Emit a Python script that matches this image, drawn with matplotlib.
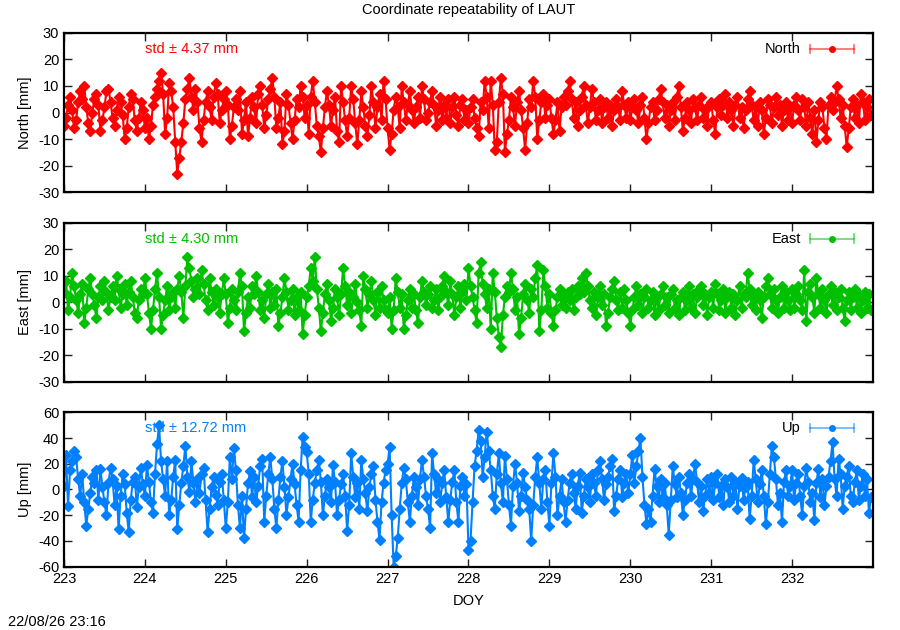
import numpy as np
import matplotlib
matplotlib.use('Agg')
import matplotlib.pyplot as plt

plt.rcParams['font.family'] = ['Liberation Sans', 'DejaVu Sans']
plt.rcParams['axes.unicode_minus'] = False

# 观测历元 (DOY), 每 0.025 天一个点 (每天 40 个)
doy = 223.0 + np.arange(400) * 0.025

north = [
    -5, -2, 3, 6, 1, -6, -3, 4, 8, 5, 10, 2, -4, -7, 0, 5, 7, 3, -7, -3,
    2, 8, 9, 4, -2, -5, 1, 6, 4, -1, -10, -6, 2, 7, 5, -3, -7, -2, 4, 1,
    -6, -2, -10, -5, 3, 6, 9, 12, 15, 7, -8, -2, 11, 8, 2, -11, -23, -17, -11, -4,
    5, 9, 13, 6, 1, 9, 4, -6, -11, -3, 4, 8, 2, -3, 6, 11, 7, -4, 1, 5,
    8, 3, -10, -5, 2, 5, 1, 8, -8, -3, 4, -9, -2, 6, 2, -4, 7, 10, 3, -6,
    -1, 5, 9, 13, 6, -6, -2, 4, -12, -7, 7, 3, -4, -10, -3, 5, 2, 10, 6, -2,
    3, -8, 6, 12, 4, -5, -9, -15, -6, 2, 8, 3, -5, 1, 6, -7, -11, 10, 4, -3,
    -9, -2, 10, 5, -4, -12, -3, 8, 2, -5, -9, -1, 10, 4, -6, 2, 7, -3, 12, 5,
    -6, -14, -8, 1, 6, 2, -6, 10, 4, -3, 3, 8, 1, -4, 2, 6, -2, 10, 5, -3,
    0, 4, 8, 3, -5, 1, 6, -3, 3, -2, 5, -4, 2, 6, -1, -5, 3, 5, -3, 1,
    -4, 2, 5, -2, -6, -9, 4, 1, 12, 6, -6, 12, 3, -14, -11, 4, 13, 7, -15, -8,
    -3, 6, 2, -5, 4, 8, 1, -6, -14, -4, 5, 2, 12, 6, -10, -3, 4, 7, -2, 3,
    5, -2, -8, -3, 4, -7, 2, 6, 3, 8, 12, 5, -2, 4, -5, 1, 6, 10, 3, -4,
    2, 9, 4, -3, 1, 5, -4, 2, 4, -2, 3, -5, 1, 5, 2, -3, 8, 3, -2, 4,
    -3, 2, 5, 1, -4, 3, 6, -2, -10, -4, 2, 4, -3, 1, 5, 9, 4, -2, 3, -5,
    1, 4, -3, 6, 10, 2, -7, -2, 4, 1, -4, 5, 2, -3, 3, 6, -2, 1, -5, 3,
    4, -3, -8, 2, 5, -1, 3, 7, -2, 4, 1, -5, 3, 6, -2, 2, -6, 1, 5, 8,
    3, -3, 2, -5, 4, 1, -8, -2, 5, 3, -4, 2, 6, -1, 3, -5, 1, 4, -3, 2,
    -4, 3, 6, 1, -3, 5, 2, -5, 4, -2, -8, 1, -11, -3, 4, 2, -6, -10, 3, 6,
    1, 4, 10, 5, -2, 3, -5, -13, -6, 2, 5, -2, 3, -4, 7, 4, -3, 2, 5, -1,
]

east = [
    4, 8, -3, 2, 11, 6, 1, -4, 3, 7, -8, -2, 5, 9, 3, -1, -6, 2, 6, 1,
    8, 4, -3, 2, 6, 1, 10, 5, -2, 3, 7, -1, 4, 8, 2, -4, -6, 1, 5, 3,
    9, 3, -4, -10, -3, 5, 11, 2, -10, -5, 1, 6, -3, 2, 4, -2, 5, 10, 4, -6,
    6, 17, 13, 8, 2, 5, 9, 3, 12, 7, 1, -3, 9, 4, -1, 5, 2, -4, 3, 9,
    3, -8, -2, 5, 1, -3, 4, 11, 6, -11, -4, 2, -2, 6, 3, 10, 4, -3, 1, -6,
    3, 7, -2, 4, -1, 5, -9, -4, 2, 9, 4, -3, 1, 5, -5, 2, -3, 4, -12, -5,
    2, 6, 13, 8, 17, 5, -2, -11, -4, 3, 7, 1, -7, -2, 5, 2, -5, 3, 13, 6,
    -1, 4, -4, 2, 7, 0, -3, -9, 10, 5, -2, 3, 8, 1, -5, 4, -2, 6, 1, -3,
    -4, 2, -10, -3, 9, 4, -2, 3, -10, -5, 1, 5, -2, 3, -3, -8, 2, 8, 4, -1,
    3, 6, -2, 1, 5, -3, 2, 6, 10, 4, -1, 8, 3, -5, 2, 6, -2, 4, 7, 1,
    13, 6, 2, -3, -8, 11, 15, 7, 3, -2, 5, -10, 11, 4, -6, -13, -17, -5, 2, 6,
    4, 11, 5, -3, 2, -12, -6, 3, 7, 1, -4, 5, 2, 9, 14, -11, -3, 12, 6, -2,
    3, -4, -9, -3, 2, 5, -1, 3, -2, 4, 1, 5, -3, 2, 6, 3, 9, 4, 11, 6,
    1, -2, 4, -5, 2, 6, -1, 3, -9, -4, 2, 5, 8, 1, -3, 4, -2, 5, 1, -4,
    -9, -3, 2, 6, -1, 3, -4, 2, 5, -2, 1, 4, -5, 2, -3, 3, 6, -1, 2, -4,
    3, 5, -2, 1, -5, 2, 4, -3, 1, 6, -2, 3, -4, 2, 5, 6, -1, 3, -5, 2,
    4, -2, 7, 3, -3, 1, 5, -4, 2, 4, -2, 3, -5, 1, 6, -2, 3, 2, 11, 5,
    -1, 3, -3, 4, 1, -6, 2, 6, 9, 3, -2, 5, 1, -4, 2, 6, -2, 4, 1, -3,
    5, -2, 3, 6, 1, -3, 12, -7, 4, 7, 2, -4, 9, 3, -2, 5, 1, -4, 3, 6,
    -1, 4, -3, 2, 5, -2, -7, 1, 4, -3, 2, 5, -2, 3, -4, 1, 4, -2, 3, -3,
]

up = [
    3, 27, -13, 15, 22, 30, 25, 8, -5, 12, -10, -28, -15, -3, 10, 5, 15, -8, 16, 2,
    -10, -20, 5, 17, 8, -12, 3, -31, -5, 12, 4, -18, -33, -8, 6, 10, -14, 2, 17, 4,
    -5, 19, 6, -10, -18, 12, 35, 50, 22, 8, -5, 22, -20, -8, 10, 23, -31, -12, 5, 18,
    34, 10, -2, 22, 5, -10, 8, -3, 12, 17, -8, -33, -15, 2, 10, -4, -12, 6, 12, -8,
    -30, -10, 25, 8, 32, 15, -12, -30, -5, -38, -15, 5, 14, -6, 10, -10, 3, 18, 24, -25,
    -5, 12, 25, 8, -15, -30, -8, 10, 22, 2, -20, -6, 8, 20, 4, -12, -25, 15, 41, 33,
    29, 12, -25, -8, 5, 15, 23, 6, -20, -5, 8, 2, -10, 19, 6, -20, -8, 4, 12, -5,
    -32, -12, 28, 10, -6, 5, -15, 23, 8, -3, -17, 2, 12, 18, -8, -25, -39, -10, 5, 15,
    20, 33, -20, -60, -52, -38, -15, 5, 17, 8, -10, -25, -5, 10, 2, -12, 8, 23, 10, -5,
    -15, -30, 28, 12, -3, 8, -10, 5, 15, -6, -25, -8, 6, 15, -10, -25, 3, 10, -5, 4,
    -47, -40, -10, 18, 30, 46, 38, 10, 25, 45, 30, 15, -5, -15, 12, 28, 5, -10, 26, 8,
    -12, -28, 3, 20, 5, -17, -5, 13, 2, -8, -15, -40, -12, 10, 25, 5, -15, 8, 15, -10,
    -28, 5, 28, 10, -20, -5, 8, -10, -25, -8, 5, 12, -3, -15, 3, 13, -18, -5, 8, 2,
    -10, 12, 5, -5, 15, 22, 8, -8, 4, 10, 18, 24, -17, -5, 8, 15, -6, 5, 12, -3,
    12, 27, 5, 18, 30, 40, 10, -12, -27, -15, -25, -5, 16, 3, -10, 8, -6, 5, -12, -35,
    -8, 18, 4, -6, 10, -3, -20, -8, 5, 12, -5, 8, 20, 6, -10, 3, -17, -5, 8, -3,
    10, -8, 5, 12, -6, 3, -12, 8, 2, -10, 10, -5, 6, -15, 3, 9, -8, 2, 6, -23,
    -5, 23, 8, -10, 4, 15, -5, -27, -10, 12, 34, 25, 8, -12, -3, -25, 6, 15, -5, 3,
    15, -8, 5, 12, -5, -20, 3, 17, 6, -10, -3, -24, 5, 16, -6, 8, -12, 3, 10, 22,
    37, 8, -5, 24, 12, -15, 3, 10, 18, -5, -10, 6, 15, -8, 3, 12, -5, 8, -18, -6,
]

names = ['North', 'East', 'Up']
series = [north, east, up]
colors = ['#ff0000', '#00c000', '#0080ff']
stds = ['4.37', '4.30', '12.72']
ylims = [(-30, 30), (-30, 30), (-60, 60)]
yticks = [np.arange(-30, 31, 10), np.arange(-30, 31, 10), np.arange(-60, 61, 20)]
xticks = np.arange(223, 233, 1)

# 三个子图位置 (figure fraction)
boxes = [
    [0.0711, 0.6948, 0.8989, 0.2532],
    [0.0711, 0.3941, 0.8989, 0.2524],
    [0.0711, 0.1005, 0.8989, 0.2451],
]

fig = plt.figure(figsize=(9, 6.3), dpi=100)

for i in range(3):
    ax = fig.add_axes(boxes[i])
    c = colors[i]
    y = np.array(series[i], dtype=float)
    ax.plot(doy[:len(y)], y, '-', color=c, lw=1.5, zorder=2)
    ax.plot(doy[:len(y)], y, 'D', color=c, ms=5.4, mec=c, lw=0, zorder=3)

    ax.set_xlim(223, 233)
    ax.set_ylim(*ylims[i])
    ax.set_xticks(xticks)
    ax.set_yticks(yticks[i])
    ax.tick_params(direction='in', length=6, width=1, top=True, right=True,
                   labelsize=10.5, colors='#202020', labelcolor='black')
    if i < 2:
        ax.set_xticklabels([])
    else:
        ax.set_xlabel('DOY', fontsize=10.5, labelpad=6)
    ax.set_ylabel(names[i] + ' [mm]', fontsize=10.5, labelpad=4)
    for sp in ax.spines.values():
        sp.set_linewidth(1.6)
        sp.set_zorder(5)

    ax.text(0.1, 0.898, 'std \u00b1 ' + stds[i] + ' mm', transform=ax.transAxes,
            color=c, fontsize=10.5, ha='left', va='center', zorder=1)

    # 图例: 文字 + 误差棒样式
    ax.text(0.911, 0.898, names[i], transform=ax.transAxes, fontsize=10.5,
            ha='right', va='center')
    ax.plot([0.922, 0.977], [0.898, 0.898], transform=ax.transAxes,
            color=c, lw=1.2, alpha=0.6, clip_on=False)
    for xe in (0.922, 0.977):
        ax.plot([xe, xe], [0.87, 0.926], transform=ax.transAxes,
                color=c, lw=1.2, alpha=0.6, clip_on=False)
    ax.plot([0.9495], [0.898], 'o', transform=ax.transAxes, color=c, ms=4)

fig.text(0.521, 0.984, 'Coordinate repeatability of LAUT', ha='center', va='center',
         fontsize=10.5)
fig.text(0.009, 0.012, '22/08/26 23:16', ha='left', va='center', fontsize=10.5)

fig.savefig('out.png', dpi=100)
